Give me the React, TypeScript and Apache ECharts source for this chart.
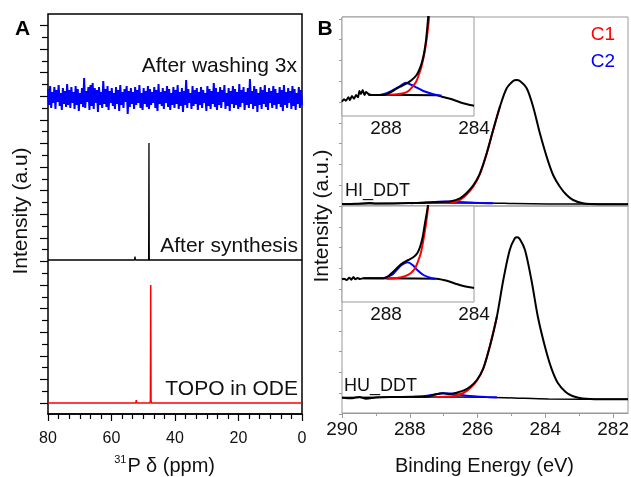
import React, { useEffect, useRef } from 'react';
import * as echarts from 'echarts';

const FONT = "'Liberation Sans', Arial, Helvetica, sans-serif";
const GREY = '#9a9a9a';

// ---------------- Panel A : 31P NMR ----------------
const ppmMin = 0;
const ppmMax = 80;
const ppmStep = 20;

// "After washing 3x" trace (noise band)
const washingNoise: number[] = [
  325, 309, 328, 306, 322, 311, 327, 305, 324, 312, 329, 308, 321, 304, 326, 310, 323, 307, 330, 309,
  324, 306, 327, 311, 322, 305, 328, 309, 325, 303, 321, 310, 326, 307, 336, 306, 323, 312, 327, 304,
  329, 308, 331, 305, 326, 311, 324, 302, 327, 309, 322, 306, 333, 310, 325, 307, 328, 304, 323, 311,
  326, 308, 321, 305, 327, 310, 324, 303, 329, 309, 322, 306, 325, 312, 328, 300, 323, 307, 326, 310,
  322, 305, 327, 309, 324, 311, 329, 306, 321, 304, 326, 310, 323, 307, 328, 305, 325, 309, 322, 311,
  327, 306, 324, 303, 330, 310, 322, 308, 326, 305, 323, 311, 328, 307, 325, 304, 321, 309, 327, 306,
  324, 310, 329, 305, 322, 308, 326, 302, 323, 309, 334, 306, 325, 311, 321, 305, 328, 308, 324, 310,
  326, 304, 322, 309, 327, 306, 324, 311, 321, 303, 328, 308, 325, 305, 323, 310, 331, 307, 326, 304,
  322, 309, 327, 306, 324, 312, 329, 305, 321, 308, 326, 303, 323, 310, 328, 306, 325, 309, 322, 305,
  330, 307, 324, 311, 327, 304, 322, 309, 326, 306, 335, 310, 323, 305, 328, 308, 325, 302, 321, 309,
  327, 305, 324, 310, 329, 307, 322, 304, 326, 311, 323, 306, 328, 309, 325, 305, 321, 310, 327, 307,
  324, 303, 329, 309, 322, 306, 326, 311, 323, 305, 328, 308, 325, 304, 321, 310, 327, 306, 324, 309,
];

const afterSynthesis: [number, number][] = [
  [80, 154], [52.75, 154], [52.6, 157.5], [52.45, 154], [48.3, 154], [48.2, 271], [48.1, 154], [0, 154],
];

const topoInOde: [number, number][] = [
  [80, 11], [52.35, 11], [52.2, 14], [52.05, 11], [47.85, 11], [47.75, 14], [47.65, 129], [47.55, 14], [47.45, 11], [0, 11],
];

// ---------------- Panel B : C 1s XPS ----------------
const beMin = 281.56;
const beMax = 290;
const beMajor = [282, 284, 286, 288, 290];
const beMinor = [283, 285, 287, 289];
const insetMin = 284;
const insetMax = 290;
const insetLabels = [284, 288];

// HI_DDT main
const hiEnvelope: [number, number][] = [
  [290, 2], [289.59, 2.2], [289.19, 3], [288.99, 2.4], [288.48, 2.6], [287.97, 3], [287.46, 3.4], [287.31, 3.8],
  [286.96, 4.3], [286.81, 4.6], [286.52, 7.7], [286.33, 12.7], [286.12, 21], [285.93, 32.7], [285.73, 52.7],
  [285.54, 76], [285.34, 99.3], [285.14, 117.7], [284.95, 125], [284.85, 126], [284.75, 125], [284.55, 117.7],
  [284.36, 99.3], [284.16, 72.7], [283.96, 49.3], [283.77, 31], [283.57, 19.3], [283.37, 11], [283.18, 6],
  [282.89, 2.7], [282.39, 1.8], [281.56, 1.8],
];
const hiBackground: [number, number][] = [
  [290, 2], [287.46, 3], [285.74, 3], [284.93, 2.5], [283.91, 2], [281.56, 1.8],
];
const hiC1: [number, number][] = [
  [287.56, 3], [287.16, 3.1], [286.85, 3.3], [286.65, 4.3], [286.52, 6], [286.33, 11.2], [286.12, 19.8],
  [285.93, 31.8], [285.73, 52.2], [285.54, 75.8], [285.34, 99.3],
];
const hiC2: [number, number][] = [
  [287.97, 2.8], [287.56, 3.4], [287.16, 4.2], [286.85, 4.5], [286.55, 4.1], [286.25, 3.5], [285.94, 3.0], [285.54, 2.8],
];

// HU_DDT main
const huEnvelope: [number, number][] = [
  [290, 15.3], [289.7, 14.8], [289.49, 16], [289.29, 14.2], [288.99, 15.5], [288.48, 16], [287.97, 16.2],
  [287.5, 16.3], [287.31, 18], [287.02, 19.7], [286.81, 19], [286.62, 20.3], [286.42, 22.3], [286.22, 26.3],
  [286.02, 33], [285.83, 44.7], [285.64, 66.3], [285.43, 96.3], [285.24, 133], [285.05, 163], [284.9, 174.7],
  [284.83, 175.7], [284.75, 173.7], [284.6, 163], [284.41, 133], [284.22, 96.3], [284.01, 66.3], [283.82, 44.7],
  [283.63, 30], [283.4, 21], [283.2, 17], [282.9, 14.5], [282.39, 13.7], [281.56, 13.7],
];
const huBackground: [number, number][] = [
  [290, 15.5], [287.46, 16], [285.74, 15.8], [284.93, 15], [283.91, 14], [281.56, 13.7],
];
const huC1: [number, number][] = [
  [287.26, 16], [286.96, 16.2], [286.75, 16.8], [286.62, 17.8], [286.42, 20], [286.22, 24.8], [286.02, 32.4],
  [285.83, 44.5], [285.64, 66.3], [285.43, 96.3],
];
const huC2: [number, number][] = [
  [287.87, 16.2], [287.56, 17], [287.26, 18.6], [287.02, 19.8], [286.81, 19.6], [286.62, 18.8], [286.42, 17.8],
  [286.22, 17], [286.02, 16.4], [285.74, 16], [285.43, 15.7],
];

// HI_DDT inset
const hiInsetEnvelope: [number, number][] = [
  [290.0, 14.3], [289.91, 16.7], [289.82, 15.3], [289.71, 18.7], [289.64, 16], [289.55, 20], [289.45, 17.3],
  [289.36, 21], [289.27, 18.7], [289.21, 25], [289.14, 22], [289.06, 26], [288.98, 21], [288.91, 24],
  [288.8, 22], [288.65, 21], [288.05, 21], [287.82, 23.3], [287.52, 27.3], [287.29, 30], [287.06, 32.7],
  [286.83, 36], [286.61, 41], [286.49, 46], [286.38, 52.7], [286.27, 62.7], [286.18, 76], [286.12, 89.3],
  [286.08, 99.3], [286.04, 112],
];
const hiInsetC1: [number, number][] = [
  [288.05, 21], [287.51, 21.7], [287.21, 22.7], [286.98, 25], [286.79, 29.3], [286.63, 34.3], [286.51, 41],
  [286.39, 49.3], [286.27, 61], [286.18, 72.7], [286.1, 86], [286.04, 99.3], [286.0, 110],
];
const hiInsetC2: [number, number][] = [
  [288.27, 21], [287.97, 22.7], [287.67, 26], [287.36, 30], [287.09, 33.3], [286.83, 31], [286.6, 28.3],
  [286.3, 25], [286.0, 22.7], [285.7, 21], [285.47, 20.3],
];
const hiInsetBackground: [number, number][] = [
  [288.8, 21], [285.7, 20.7], [285.47, 19.3], [285.09, 17.3], [284.79, 15], [284.49, 12.7], [284.18, 11], [284.0, 10.3],
];

// HU_DDT inset
const huInsetEnvelope: [number, number][] = [
  [290.0, 22.7], [289.91, 23.3], [289.79, 22], [289.67, 24.3], [289.58, 22.3], [289.48, 25], [289.39, 22.7],
  [289.3, 24], [289.18, 23], [289.03, 23.7], [288.12, 23.7], [287.89, 26], [287.67, 30.3], [287.44, 35.3],
  [287.21, 39.3], [286.99, 42], [286.76, 44.7], [286.58, 48.7], [286.45, 55.3], [286.33, 65.3],
  [286.23, 78.7], [286.15, 88.7], [286.1, 95.3], [286.05, 108],
];
const huInsetC1: [number, number][] = [
  [287.97, 23.3], [287.51, 24], [287.14, 25.7], [286.88, 28.7], [286.68, 33.7], [286.55, 40.3], [286.42, 48.7],
  [286.3, 62], [286.2, 75.3], [286.12, 88.7], [286.06, 100.3], [286.02, 108],
];
const huInsetC2: [number, number][] = [
  [288.12, 23.7], [287.74, 27], [287.52, 32], [287.29, 37], [287.03, 39.7], [286.79, 37], [286.58, 32],
  [286.3, 27], [286.0, 24.3], [285.77, 23.3],
];
const huInsetBackground: [number, number][] = [
  [289.03, 23.7], [285.7, 23.3], [285.39, 22], [285.09, 20.3], [284.79, 18], [284.48, 16], [284.18, 14.7], [284.0, 14],
];

const line = (data: any, xi: number, yi: number, color: string, width: number, smooth: number | boolean = 0.3) => ({
  type: 'line',
  data,
  xAxisIndex: xi,
  yAxisIndex: yi,
  symbol: 'none',
  showSymbol: false,
  smooth,
  lineStyle: { color, width },
  itemStyle: { color },
  silent: true,
  clip: true,
});

const text = (t: string, x: number, y: number, size: number, align: string, extra: any = {}) => ({
  type: 'text',
  x,
  y,
  silent: true,
  ...(extra.rotation !== undefined ? { rotation: extra.rotation } : {}),
  style: {
    text: t,
    fontSize: size,
    fontFamily: FONT,
    fontWeight: extra.bold ? 'bold' : 'normal',
    fill: extra.color || '#111',
    align,
    verticalAlign: 'middle',
    textAlign: align,
    textVerticalAlign: 'middle',
  },
});

const hiddenX = (grid: number, min: number, max: number) => ({
  type: 'value', gridIndex: grid, min, max, show: false,
});

const G = { outerBoundsMode: 'none', containLabel: false };

export default function App() {
  const ref = useRef<HTMLDivElement>(null);
  useEffect(() => {
    if (!ref.current) return;
    const chart = echarts.init(ref.current, undefined, { renderer: 'svg' });
    const option: any = {
      animation: false,
      textStyle: { fontFamily: FONT },
      grid: [
        // 0 panel A main
        { ...G, left: 48, top: 14, width: 254, height: 400, show: true, borderColor: '#000', borderWidth: 1.5 },
        // 1 panel A y tick helper
        { ...G, left: 48, top: 403 - 32 * 11.8, width: 254, height: 32 * 11.8 },
        // 2 panel B y tick helper
        { ...G, left: 342, top: 206 - 9 * 20.8, width: 286, height: 19 * 20.8 },
        // 3 HI main
        { ...G, left: 342, top: 17, width: 286, height: 189, show: true, borderColor: GREY, borderWidth: 1 },
        // 4 HU main
        { ...G, left: 342, top: 206, width: 286, height: 207, show: true, borderColor: GREY, borderWidth: 1 },
        // 5 HI inset
        { ...G, left: 342, top: 17, width: 132, height: 99, show: true, borderColor: GREY, borderWidth: 1, backgroundColor: '#fff' },
        // 6 HU inset
        { ...G, left: 342, top: 206, width: 132, height: 96, show: true, borderColor: GREY, borderWidth: 1, backgroundColor: '#fff' },
      ],
      xAxis: [
        // 0 ppm axis
        {
          type: 'value', gridIndex: 0, min: ppmMin, max: ppmMax, interval: ppmStep, inverse: true, position: 'bottom',
          axisLine: { show: true, lineStyle: { color: '#000', width: 1.5 } },
          axisTick: { show: true, length: 7, lineStyle: { color: '#000', width: 1.2 } },
          minorTick: { show: true, splitNumber: 6, length: 5, lineStyle: { color: '#000', width: 1.2 } },
          axisLabel: { fontSize: 16, color: '#111', margin: 15, fontFamily: FONT },
          splitLine: { show: false },
        },
        // 1 category axis for the noise trace
        {
          type: 'category', gridIndex: 0, boundaryGap: false, show: false,
          data: washingNoise.map((_, i) => String(i)),
        },
        // 2 helper
        hiddenX(1, 0, 1),
        // 3 helper
        hiddenX(2, 0, 1),
        // 4 HI main
        { type: 'value', gridIndex: 3, min: beMin, max: beMax, inverse: true, show: false },
        // 5 HU main (major ticks + labels)
        {
          type: 'value', gridIndex: 4, min: beMin, max: beMax, inverse: true, position: 'bottom',
          axisLine: { show: true, lineStyle: { color: GREY, width: 1 } },
          axisTick: { show: true, customValues: beMajor, length: 5, lineStyle: { color: GREY } },
          axisLabel: { customValues: beMajor, fontSize: 19, color: '#111', margin: 6, fontFamily: FONT },
          splitLine: { show: false },
        },
        // 6 HU main minor ticks
        {
          type: 'value', gridIndex: 4, min: beMin, max: beMax, inverse: true, position: 'bottom',
          axisLine: { show: false },
          axisTick: { show: true, customValues: beMinor, length: 3, lineStyle: { color: GREY } },
          axisLabel: { show: false },
          splitLine: { show: false },
        },
        // 7 HI inset
        {
          type: 'value', gridIndex: 5, min: insetMin, max: insetMax, inverse: true, position: 'bottom',
          axisLine: { show: false },
          axisTick: { show: false },
          axisLabel: { customValues: insetLabels, fontSize: 19, color: '#111', margin: 2, fontFamily: FONT },
          splitLine: { show: false },
        },
        // 8 HU inset
        {
          type: 'value', gridIndex: 6, min: insetMin, max: insetMax, inverse: true, position: 'bottom',
          axisLine: { show: false },
          axisTick: { show: false },
          axisLabel: { customValues: insetLabels, fontSize: 19, color: '#111', margin: 2, fontFamily: FONT },
          splitLine: { show: false },
        },
      ],
      yAxis: [
        // 0 panel A main
        { type: 'value', gridIndex: 0, min: 0, max: 400, show: false },
        // 1 panel A tick helper
        {
          type: 'value', gridIndex: 1, min: 0, max: 32, interval: 2, position: 'left',
          axisLine: { show: false },
          axisTick: { show: true, length: 8, lineStyle: { color: '#000', width: 1.2 } },
          minorTick: { show: true, splitNumber: 2, length: 6, lineStyle: { color: '#000', width: 1.2 } },
          axisLabel: { show: false },
          splitLine: { show: false },
        },
        // 2 panel B tick helper
        {
          type: 'value', gridIndex: 2, min: 0, max: 19, interval: 1, position: 'left',
          axisLine: { show: false },
          axisTick: { show: true, length: 3, lineStyle: { color: GREY } },
          axisLabel: { show: false },
          splitLine: { show: false },
        },
        // 3 HI main
        { type: 'value', gridIndex: 3, min: 0, max: 189, show: false },
        // 4 HU main
        { type: 'value', gridIndex: 4, min: 0, max: 207, show: false },
        // 5 HI inset
        { type: 'value', gridIndex: 5, min: 0, max: 99, show: false },
        // 6 HU inset
        { type: 'value', gridIndex: 6, min: 0, max: 96, show: false },
      ],
      series: [
        line(washingNoise, 1, 0, '#0000ff', 2, false),
        line(afterSynthesis, 0, 0, '#000', 1.3, false),
        line(topoInOde, 0, 0, '#ff0000', 1.5, false),

        line(hiBackground, 4, 3, '#000', 1.5),
        line(hiC2, 4, 3, '#0000ff', 2),
        line(hiC1, 4, 3, '#ff0000', 2),
        line(hiEnvelope, 4, 3, '#000', 2),

        line(huBackground, 5, 4, '#000', 1.5),
        line(huC2, 5, 4, '#0000ff', 2),
        line(huC1, 5, 4, '#ff0000', 2),
        line(huEnvelope, 5, 4, '#000', 2),

        line(hiInsetBackground, 7, 5, '#000', 2),
        line(hiInsetC2, 7, 5, '#0000ff', 2),
        line(hiInsetC1, 7, 5, '#ff0000', 2),
        line(hiInsetEnvelope, 7, 5, '#000', 2, 0.2),

        line(huInsetBackground, 8, 6, '#000', 2),
        line(huInsetC2, 8, 6, '#0000ff', 2),
        line(huInsetC1, 8, 6, '#ff0000', 2),
        line(huInsetEnvelope, 8, 6, '#000', 2, 0.2),
      ],
      graphic: [
        text('A', 22.5, 27.5, 21, 'center', { bold: true, color: '#000' }),
        text('B', 325, 27.5, 21, 'center', { bold: true, color: '#000' }),
        text('After washing 3x', 297, 64.5, 21, 'right'),
        text('After synthesis', 298, 244.5, 21, 'right'),
        text('TOPO in ODE', 298, 387.5, 21, 'right'),
        text('Intensity (a.u)', 19, 211, 21, 'center', { rotation: Math.PI / 2 }),
        text('31', 126.5, 459, 11, 'right'),
        text('P δ (ppm)', 127.5, 465, 20, 'left'),
        text('Binding Energy (eV)', 484.5, 465, 20, 'center'),
        text('Intensity (a.u.)', 320, 216, 21, 'center', { rotation: Math.PI / 2 }),
        text('C1', 615, 33.5, 19, 'right', { color: '#ff0000' }),
        text('C2', 615, 60.5, 19, 'right', { color: '#0000ff' }),
        text('HI_DDT', 345, 190, 18, 'left'),
        text('HU_DDT', 344, 384.5, 18, 'left'),
      ],
    };
    chart.setOption(option);
    return () => chart.dispose();
  }, []);
  return <div ref={ref} style={{ position: 'fixed', left: 0, top: 0, width: 631, height: 477 }} />;
}
